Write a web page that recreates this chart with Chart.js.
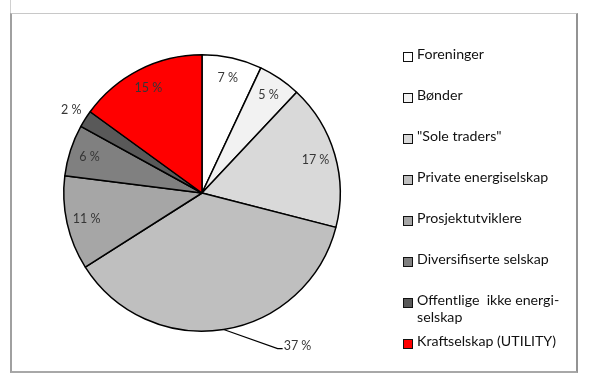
<!DOCTYPE html>
<html>
<head>
<meta charset="utf-8">
<script src="https://cdn.jsdelivr.net/npm/chart.js@4.4.0/dist/chart.umd.min.js"></script>
<style>
  html, body { margin: 0; padding: 0; background: #fff; }
  #wrap { position: relative; width: 589px; height: 376px; overflow: hidden; }
  #topline { position: absolute; left: 10px; top: 0; width: 1px; height: 13px; background: #d0d0d0; }
  #frame {
    position: absolute; left: 10px; top: 13px; width: 564px; height: 357px;
    border-top: 1px solid #c8c8c8; border-left: 2px solid #a0a0a0;
    border-right: 2px solid #939393; border-bottom: 2px solid #a8a8a8;
  }
  #chart { position: absolute; left: 0; top: 0; }
  #legend { position: absolute; left: 403px; top: 0; font-family: Lato, sans-serif; font-size: 14.2px; color: #111; }
  .item { position: absolute; left: 0; white-space: nowrap; line-height: 17px; }
  .box { position: absolute; left: 0; top: 3px; width: 8px; height: 8px; border: 1px solid #111; }
  .txt { position: absolute; left: 14px; top: -4px; }
</style>
</head>
<body>
<div id="wrap">
  <div id="topline"></div>
  <div id="frame"></div>
  <canvas id="chart" width="589" height="376"></canvas>
  <div id="legend"></div>
</div>
<script>
const labels = [
  'Foreninger',
  'Bønder',
  '"Sole traders"',
  'Private energiselskap',
  'Prosjektutviklere',
  'Diversifiserte selskap',
  ['Offentlige  ikke energi-', 'selskap'],
  'Kraftselskap (UTILITY)'
];
const shares = [7, 5, 17, 37, 11, 6, 2, 15];
const colors = ['#ffffff', '#f2f2f2', '#d9d9d9', '#bfbfbf', '#a6a6a6', '#808080', '#595959', '#ff0000'];

// draws "N %" on each slice, some outside / with a leader line
const sliceLabels = {
  id: 'sliceLabels',
  afterDatasetsDraw(chart, args, opts) {
    const ctx = chart.ctx;
    const meta = chart.getDatasetMeta(0);
    ctx.save();
    ctx.font = '12.5px Lato, sans-serif';
    ctx.fillStyle = '#363636';
    meta.data.forEach((arc, i) => {
      const p = arc.getProps(['x', 'y', 'startAngle', 'endAngle', 'outerRadius'], true);
      const mid = (p.startAngle + p.endAngle) / 2;
      const text = chart.data.datasets[0].data[i] + ' %';
      const callout = opts.callouts[i];
      if (callout) {
        const ex = p.x + Math.cos(mid) * p.outerRadius;
        const ey = p.y + Math.sin(mid) * p.outerRadius;
        const kx = ex + callout.dx, ky = ey + callout.dy;
        ctx.strokeStyle = '#000';
        ctx.lineWidth = 1.2;
        ctx.beginPath();
        ctx.moveTo(ex, ey);
        ctx.lineTo(kx, ky);
        ctx.lineTo(kx + 5, ky);
        ctx.stroke();
        ctx.textAlign = 'left';
        ctx.textBaseline = 'alphabetic';
        ctx.fillText(text, kx + 6, ky + 1);
        return;
      }
      const f = opts.outside.includes(i) ? 1.12 : 0.855;
      ctx.textAlign = 'center';
      ctx.textBaseline = 'middle';
      ctx.fillText(text, p.x + Math.cos(mid) * p.outerRadius * f, p.y + Math.sin(mid) * p.outerRadius * f);
    });
    ctx.restore();
  }
};

const chart = new Chart(document.getElementById('chart'), {
  type: 'pie',
  data: {
    labels: labels,
    datasets: [{
      data: shares,
      backgroundColor: colors,
      borderColor: '#000',
      borderWidth: 1.5
    }]
  },
  options: {
    responsive: false,
    devicePixelRatio: 1,
    animation: false,
    events: [],
    layout: { padding: { left: 63, top: 54, right: 248, bottom: 44 } },
    plugins: {
      legend: { display: false },
      tooltip: { enabled: false },
      sliceLabels: { outside: [6], callouts: { 3: { dx: 54, dy: 19 } } }
    }
  },
  plugins: [sliceLabels]
});

// html legend built from the chart's own legend items
const legendEl = document.getElementById('legend');
const items = chart.options.plugins.legend.labels.generateLabels(chart);
items.forEach((it, i) => {
  const row = document.createElement('div');
  row.className = 'item';
  row.style.top = (49 + i * 41) + 'px';
  const box = document.createElement('span');
  box.className = 'box';
  box.style.background = it.fillStyle;
  const txt = document.createElement('span');
  txt.className = 'txt';
  const lines = Array.isArray(labels[i]) ? labels[i] : [labels[i]];
  txt.innerHTML = lines.map(l => l.replace(/ /g, '&nbsp;').replace(/"/g, '&quot;')).join('<br>');
  row.appendChild(box);
  row.appendChild(txt);
  legendEl.appendChild(row);
});
</script>
</body>
</html>
